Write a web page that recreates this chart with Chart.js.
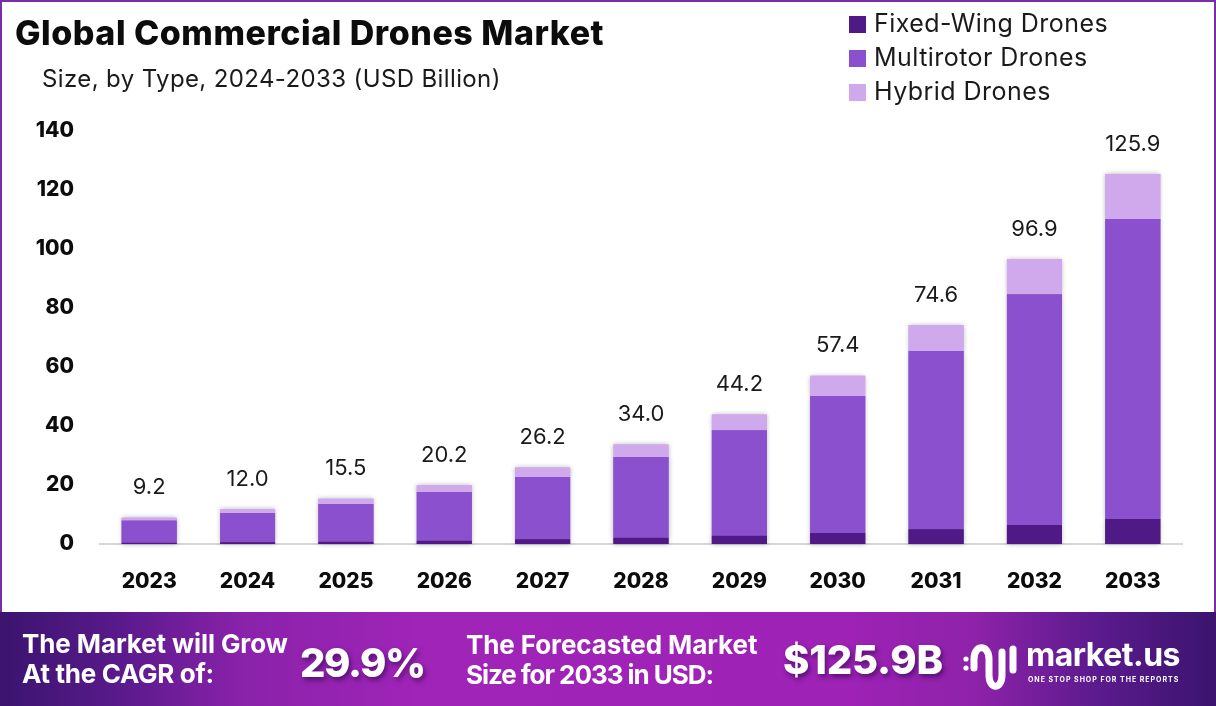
<!DOCTYPE html>
<html>
<head>
<meta charset="utf-8">
<title>Global Commercial Drones Market</title>
<script src="https://cdn.jsdelivr.net/npm/chart.js@4"></script>
<style>
  html, body { margin: 0; padding: 0; background: #fff; }
  #page { position: relative; width: 1216px; height: 706px; overflow: hidden; font-family: Inter, sans-serif; color: #111; background: #fff; }
  #frame { position: absolute; left: 0; top: 0; width: 1216px; height: 612px; box-sizing: border-box; border: 2px solid #7a2da6; border-bottom: 0; pointer-events: none; }
  #chart { position: absolute; left: 0; top: 0; }
  .abs { position: absolute; white-space: nowrap; }
  #title { left: 15px; top: 13px; font-size: 34px; line-height: 40px; font-weight: 800; letter-spacing: 0.52px; color: #0c0c0c; }
  #subtitle { left: 42px; top: 64px; font-size: 24px; line-height: 30px; color: #1a1a1a; letter-spacing: 0.38px; }
  #legend { left: 849px; top: 7px; }
  .legend-row { display: flex; align-items: center; height: 34px; font-size: 25px; color: #1a1a1a; letter-spacing: 0.45px; position: relative; top: -1px; }
  .legend-box { width: 17px; height: 17px; margin-right: 8px; position: relative; top: 1px; }
  #banner { left: 0; top: 612px; width: 1216px; height: 94px;
    background: linear-gradient(90deg, #3a146e 0%, #5a1a8c 10%, #8a22aa 20%, #a024b8 35%, #9d22b5 70%, #8f22aa 80%, #5c1b8e 90%, #3a146e 100%); color: #fff; }
  .b-text { font-size: 26px; line-height: 30px; font-weight: 700; letter-spacing: -0.1px; }
  .b-big { font-weight: 800; text-shadow: 2px 3px 5px rgba(30, 0, 60, .55); }
</style>
</head>
<body>
<div id="page">
  <canvas id="chart" width="1216" height="612"></canvas>
  <div id="frame"></div>
  <div class="abs" id="title">Global Commercial Drones Market</div>
  <div class="abs" id="subtitle">Size, by Type, 2024-2033 (USD Billion)</div>
  <div class="abs" id="legend"></div>
  <div class="abs" id="banner">
    <div class="abs b-text" style="left:22px;top:17px">The Market will Grow<br><span style="letter-spacing:-0.3px">At the CAGR of:</span></div>
    <div class="abs b-big" style="left:300px;top:26px;font-size:40px;line-height:50px;letter-spacing:-1.4px">29.9%</div>
    <div class="abs b-text" style="left:466px;top:18px">The Forecasted Market<br><span style="letter-spacing:-1.05px">Size for 2033 in USD:</span></div>
    <div class="abs b-big" style="left:783px;top:23px;font-size:40px;line-height:50px;letter-spacing:-0.2px">$125.9B</div>
    <svg class="abs" style="left:962px;top:32px" width="56" height="48" viewBox="0 0 56 48" fill="none" stroke="#fff" stroke-width="7" stroke-linecap="round">
      <circle cx="4" cy="15" r="2.6" fill="#fff" stroke="none"/>
      <circle cx="4" cy="24" r="2.6" fill="#fff" stroke="none"/>
      <path d="M12 24 V15 C12 0 27 0 27 15 V31 C27 46 40 46 40 31 V8"/>
      <path d="M51 5 V26"/>
    </svg>
    <div class="abs" style="left:1026px;top:21px;font-size:32px;line-height:44px;font-weight:700;letter-spacing:-0.5px">market.us</div>
    <div class="abs" style="left:1028px;top:63px;font-size:7px;line-height:10px;font-weight:700;letter-spacing:0.98px">ONE STOP SHOP FOR THE REPORTS</div>
  </div>
</div>

<script>
// values
const categories = ['2023', '2024', '2025', '2026', '2027', '2028', '2029', '2030', '2031', '2032', '2033'];
const fixedWing = [0.4, 0.6, 0.8, 1.1, 1.6, 2.1, 2.8, 3.7, 5.0, 6.4, 8.5];
const multirotor = [7.6, 9.9, 12.8, 16.5, 21.1, 27.4, 35.8, 46.5, 60.4, 78.3, 101.7];
const hybrid = [0.9, 1.4, 1.7, 2.3, 3.2, 4.2, 5.3, 6.8, 8.8, 11.9, 15.2];
const totalLabels = ['9.2', '12.0', '15.5', '20.2', '26.2', '34.0', '44.2', '57.4', '74.6', '96.9', '125.9'];
const seriesNames = ['Fixed-Wing Drones', 'Multirotor Drones', 'Hybrid Drones'];
const seriesColors = ['#4f1a85', '#8b50ce', '#d0a8ec'];
const yTicks = [0, 20, 40, 60, 80, 100, 120, 140];

// legend sits in the header, top right
document.getElementById('legend').innerHTML = seriesNames.map((name, i) => `
  <div class="legend-row"><span class="legend-box" style="background:${seriesColors[i]}"></span>${name}</div>
`).join('');

// soft shadow around the bars, drawn first so it stays out of the segment joins
const barShadow = {
  id: 'barShadow',
  beforeDatasetsDraw(chart) {
    const ctx = chart.ctx;
    ctx.save();
    ctx.shadowColor = 'rgba(0,0,0,0.3)';
    ctx.shadowBlur = 5;
    chart.getSortedVisibleDatasetMetas().forEach(meta => {
      meta.data.forEach(bar => bar.draw(ctx));
    });
    ctx.restore();
  }
};

// totals above each stack
const totalsOnTop = {
  id: 'totalsOnTop',
  afterDatasetsDraw(chart) {
    const ctx = chart.ctx;
    const meta = chart.getDatasetMeta(2);
    ctx.save();
    ctx.font = '400 22px Inter, sans-serif';
    ctx.fillStyle = '#1a1a1a';
    ctx.textAlign = 'center';
    ctx.textBaseline = 'middle';
    meta.data.forEach((bar, i) => {
      ctx.fillText(totalLabels[i], bar.x, bar.y - 30);
    });
    ctx.restore();
  }
};

new Chart(document.getElementById('chart').getContext('2d'), {
  type: 'bar',
  data: {
    labels: categories,
    datasets: [fixedWing, multirotor, hybrid].map((values, i) => ({
      label: seriesNames[i],
      data: values,
      backgroundColor: seriesColors[i],
      borderWidth: 0,
      categoryPercentage: 1,
      barPercentage: 0.56
    }))
  },
  options: {
    responsive: false,
    animation: false,
    layout: { padding: { top: 131, right: 34, left: 0, bottom: 0 } },
    plugins: { legend: { display: false }, tooltip: { enabled: false } },
    scales: {
      x: {
        stacked: true,
        afterFit(scale) { scale.height = 68; },
        grid: { display: false, drawTicks: false },
        border: { color: '#d6d6d6', width: 2 },
        ticks: { color: '#0c0c0c', padding: 25, maxRotation: 0, font: { family: 'Inter, sans-serif', size: 21, weight: '800' } }
      },
      y: {
        stacked: true,
        min: 0,
        max: 140,
        afterFit(scale) { scale.width = 100; },
        afterBuildTicks(scale) { scale.ticks = yTicks.map(value => ({ value })); },
        grid: { display: false, drawTicks: false },
        border: { display: false },
        ticks: { color: '#0c0c0c', padding: 26, font: { family: 'Inter, sans-serif', size: 21, weight: '800' } }
      }
    }
  },
  plugins: [barShadow, totalsOnTop]
});
</script>
</body>
</html>
